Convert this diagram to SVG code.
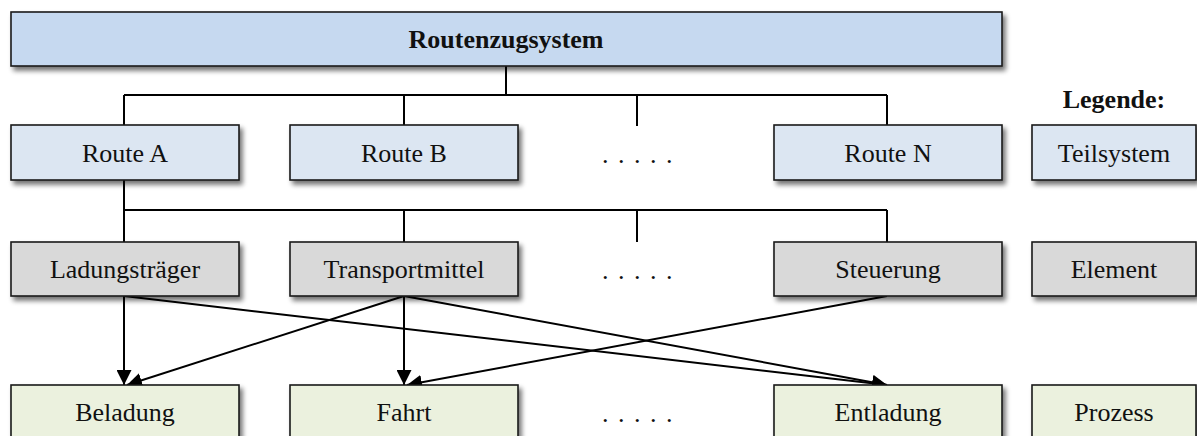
<svg xmlns="http://www.w3.org/2000/svg" width="1197" height="436" viewBox="0 0 1197 436">
  <style>
    .box { stroke: #1a1a1a; stroke-width: 1.6; filter: url(#shadow); }
    .sys { fill: #c6d9f0; }
    .sub { fill: #dce6f2; }
    .elm { fill: #d9d9d9; }
    .prc { fill: #ebf1de; }
    .lbl { font-family: "Liberation Serif", "Times New Roman", "DejaVu Serif", serif; font-size: 26px; fill: #111; text-anchor: middle; }
    .bold { font-weight: bold; }
    .dots { letter-spacing: 1.5px; }
    .tree { fill: none; stroke: #000; stroke-width: 2; }
    .arr { fill: none; stroke: #000; stroke-width: 2; marker-end: url(#head); }
  </style>
  <defs>
    <filter id="shadow" x="-10%" y="-20%" width="125%" height="160%">
      <feGaussianBlur in="SourceAlpha" stdDeviation="2.5" result="b"/>
      <feOffset in="b" dx="3" dy="4" result="o"/>
      <feComponentTransfer in="o" result="s">
        <feFuncA type="linear" slope="0.55"/>
      </feComponentTransfer>
      <feMerge>
        <feMergeNode in="s"/>
        <feMergeNode in="SourceGraphic"/>
      </feMerge>
    </filter>
    <marker id="head" viewBox="0 0 15 15" refX="15" refY="7.5" markerWidth="15" markerHeight="15" markerUnits="userSpaceOnUse" orient="auto">
      <path d="M0,0 L15,7.5 L0,15 Z" fill="#000"/>
    </marker>
  </defs>

  <rect width="1197" height="436" fill="#fff"/>

  <!-- hierarchy lines and process arrows -->
  <g id="connectors">
    <path class="tree" d="M506,66 V95 M124,95 H887 M124,95 V125 M404,95 V125 M637,95 V126 M887,95 V125"/>
    <path class="tree" d="M124,180 V210 M124,210 H887 M404,210 V242 M637,210 V242 M887,210 V242 M124,210 V242"/>
    <line class="arr" x1="124" y1="296" x2="124" y2="385"/>
    <line class="arr" x1="124" y1="296" x2="887" y2="385"/>
    <line class="arr" x1="404" y1="296" x2="127" y2="385"/>
    <line class="arr" x1="404" y1="296" x2="404" y2="385"/>
    <line class="arr" x1="404" y1="296" x2="887" y2="385"/>
    <line class="arr" x1="887" y1="296" x2="407" y2="385"/>
  </g>

  <g id="system">
    <rect class="box sys" x="11" y="12" width="991" height="54"/>
    <text class="lbl bold" x="506" y="48">Routenzugsystem</text>
  </g>

  <g id="route-a">
    <rect class="box sub" x="11" y="125" width="228" height="55"/>
    <text class="lbl" x="125" y="162">Route A</text>
  </g>
  <g id="route-b">
    <rect class="box sub" x="290" y="125" width="228" height="55"/>
    <text class="lbl" x="404" y="162">Route B</text>
  </g>
  <g id="route-more">
    <text class="lbl dots" x="638" y="163">. . . . .</text>
  </g>
  <g id="route-n">
    <rect class="box sub" x="774" y="125" width="228" height="55"/>
    <text class="lbl" x="888" y="162">Route N</text>
  </g>

  <g id="ladungstraeger">
    <rect class="box elm" x="11" y="242" width="228" height="54"/>
    <text class="lbl" x="125" y="278">Ladungsträger</text>
  </g>
  <g id="transportmittel">
    <rect class="box elm" x="290" y="242" width="228" height="54"/>
    <text class="lbl" x="404" y="278">Transportmittel</text>
  </g>
  <g id="element-more">
    <text class="lbl dots" x="638" y="279">. . . . .</text>
  </g>
  <g id="steuerung">
    <rect class="box elm" x="774" y="242" width="228" height="54"/>
    <text class="lbl" x="888" y="278">Steuerung</text>
  </g>

  <g id="beladung">
    <rect class="box prc" x="11" y="385" width="228" height="55"/>
    <text class="lbl" x="125" y="421">Beladung</text>
  </g>
  <g id="fahrt">
    <rect class="box prc" x="290" y="385" width="228" height="55"/>
    <text class="lbl" x="404" y="421">Fahrt</text>
  </g>
  <g id="process-more">
    <text class="lbl dots" x="638" y="422">. . . . .</text>
  </g>
  <g id="entladung">
    <rect class="box prc" x="774" y="385" width="228" height="55"/>
    <text class="lbl" x="888" y="421">Entladung</text>
  </g>

  <!-- legend -->
  <g id="legend">
    <text class="lbl bold" x="1114" y="108">Legende:</text>
    <rect class="box sub" x="1032" y="125" width="164" height="55"/>
    <text class="lbl" x="1114" y="162">Teilsystem</text>
    <rect class="box elm" x="1032" y="242" width="164" height="54"/>
    <text class="lbl" x="1114" y="278">Element</text>
    <rect class="box prc" x="1032" y="385" width="164" height="55"/>
    <text class="lbl" x="1114" y="421">Prozess</text>
  </g>
</svg>
